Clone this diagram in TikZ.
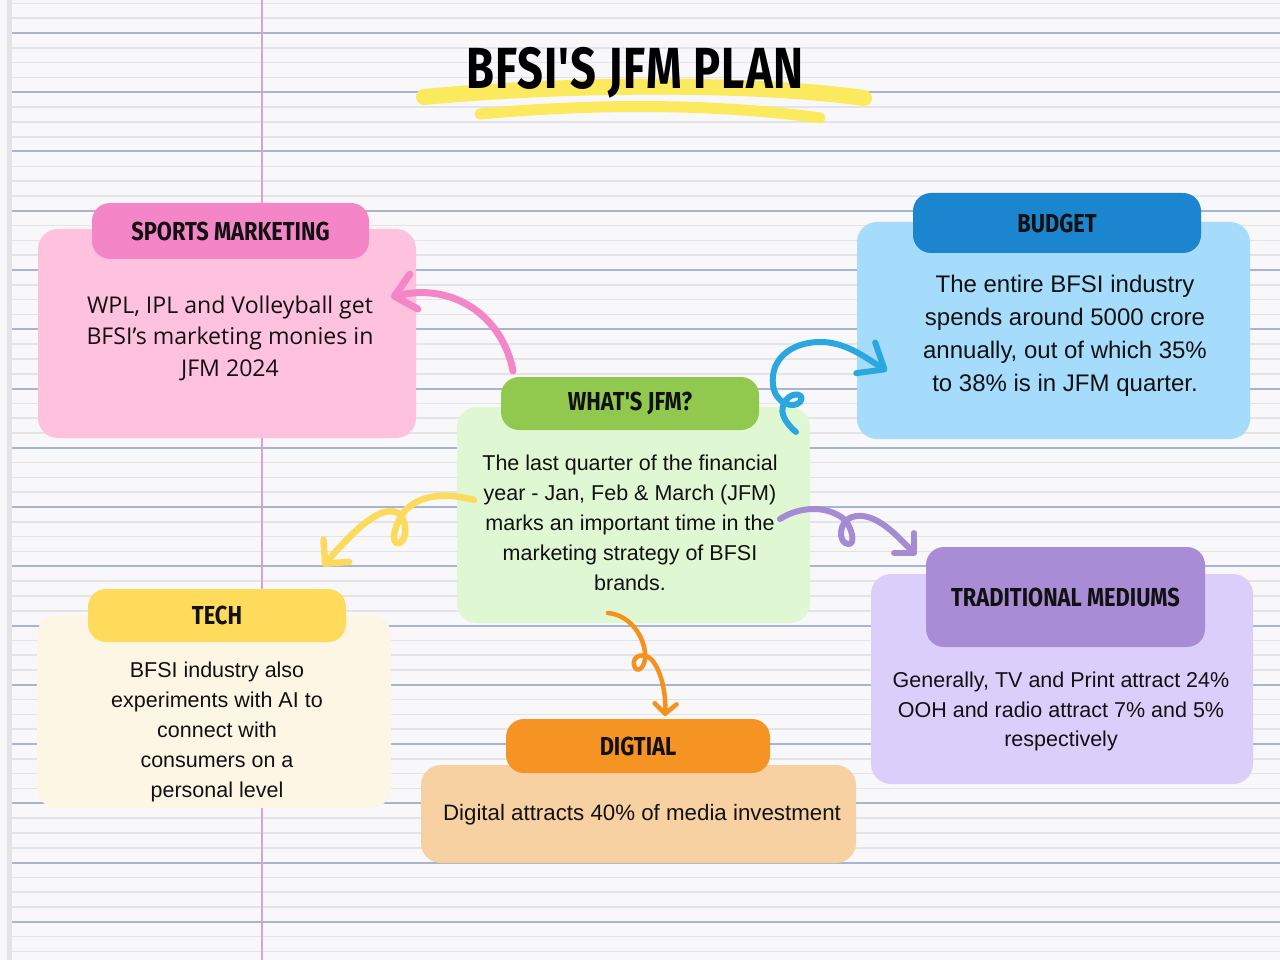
\documentclass[tikz,border=0pt]{standalone}
\usepackage{fontspec}
\setmainfont{Liberation Sans}
\newfontfamily\osfont{Open Sans}
\newfontfamily\hdfont[FakeStretch=0.84]{Fira Sans}
\newfontfamily\ttlfont[FakeStretch=0.78, LetterSpace=2]{Fira Sans}
\usetikzlibrary{arrows.meta}
\definecolor{paper}{HTML}{F8F7F9}
\definecolor{margin}{HTML}{E4E4E6}
\definecolor{lightrule}{HTML}{E3E3E8}
\definecolor{darkrule}{HTML}{A9B4D0}
\definecolor{redline}{HTML}{D9A2D0}
\definecolor{inkc}{HTML}{111111}
\definecolor{hilite}{HTML}{FCEA5E}
\definecolor{pinkbody}{HTML}{FEC2DF}
\definecolor{pinkhead}{HTML}{F486C8}
\definecolor{bluebody}{HTML}{A6DCFB}
\definecolor{bluehead}{HTML}{1B86CF}
\definecolor{greenbody}{HTML}{DFF8D3}
\definecolor{greenhead}{HTML}{91C94E}
\definecolor{yelbody}{HTML}{FEF6E5}
\definecolor{yelhead}{HTML}{FEDB5A}
\definecolor{purbody}{HTML}{DCCEFB}
\definecolor{purhead}{HTML}{A98CD6}
\definecolor{orbody}{HTML}{F8D1A3}
\definecolor{orhead}{HTML}{F59422}
\definecolor{pinkarrow}{HTML}{F486C8}
\definecolor{bluearrow}{HTML}{2AA7DF}
\definecolor{yelarrow}{HTML}{FCDA5C}
\definecolor{purarrow}{HTML}{A58AD4}
\definecolor{orarrow}{HTML}{F5921E}
\tikzset{
  bodybox/.style={draw=none, rounded corners=20pt, inner sep=0pt},
  headbox/.style={draw=none, rounded corners=18pt, inner sep=0pt, text=inkc,
    font=\hdfont\bfseries\fontsize{26}{26}\selectfont},
  bodytext/.style={align=center, text=inkc, inner sep=0pt,
    font=\fontsize{21.5}{30}\selectfont},
  curl/.style={line width=6pt, line cap=round, line join=round},
}
\begin{document}
\begin{tikzpicture}[x=1pt,y=-1pt]
\useasboundingbox (0,0) rectangle (1280,960);
% paper
\fill[paper] (0,0) rectangle (1280,960);
\fill[margin] (7,0) rectangle (12,960);
\foreach \k in {0,...,64}{
  \draw[lightrule, line width=1.6pt] (12,{3.4+14.8125*\k}) -- (1280,{3.4+14.8125*\k});
}
\foreach \m in {0,...,15}{
  \draw[darkrule, line width=2pt] (12,{33+59.25*\m}) -- (1280,{33+59.25*\m});
}
\draw[redline, line width=2.6pt] (262,0) -- (262,960);

% title
\draw[hilite, line width=16pt, line cap=round] (424,97) .. controls (560,84) and (750,82) .. (864,98);
\draw[hilite, line width=11pt, line cap=round] (480,114) .. controls (600,103) and (720,104) .. (820,118);
\node[text=black, inner sep=0pt, font=\ttlfont\bfseries\fontsize{58}{58}\selectfont] (title) at (635,73) {BFSI'S JFM PLAN};

% sports marketing
\node[bodybox, fill=pinkbody, minimum width=378pt, minimum height=209pt] (sportsbody) at (227,333.5) {};
\node[headbox, fill=pinkhead, minimum width=277pt, minimum height=56pt] (sportshead) at (230.5,231) {SPORTS MARKETING};
\node[bodytext, font=\osfont\fontsize{23.1}{31.5}\selectfont] (sportstext) at (230,338) {WPL, IPL and Volleyball get\\BFSI’s marketing monies in\\JFM 2024};

% budget
\node[bodybox, fill=bluebody, minimum width=393pt, minimum height=217pt] (budgetbody) at (1053.5,330.5) {};
\node[headbox, fill=bluehead, minimum width=288pt, minimum height=60pt] (budgethead) at (1057,223) {BUDGET};
\node[bodytext, font=\fontsize{24}{33}\selectfont] (budgettext) at (1065,336) {The entire BFSI industry\\spends around 5000 crore\\annually, out of which 35\%\\to 38\% is in JFM quarter.};

% what's jfm
\node[bodybox, fill=greenbody, minimum width=353pt, minimum height=216pt] (jfmbody) at (633.5,515) {};
\node[headbox, fill=greenhead, minimum width=258pt, minimum height=53pt] (jfmhead) at (630,403.5) {WHAT'S JFM?};
\node[bodytext] (jfmtext) at (630,523) {The last quarter of the financial\\year - Jan, Feb \& March (JFM)\\marks an important time in the\\marketing strategy of BFSI\\brands.};

% tech
\node[bodybox, fill=yelbody, minimum width=354pt, minimum height=193pt] (techbody) at (214,711.5) {};
\node[headbox, fill=yelhead, minimum width=258pt, minimum height=53pt] (techhead) at (217,615.5) {TECH};
\node[bodytext] (techtext) at (217,732) {BFSI industry also\\experiments with AI to\\connect with\\consumers on a\\personal level};

% traditional mediums
\node[bodybox, fill=purbody, minimum width=382pt, minimum height=210pt] (tradbody) at (1062,679) {};
\node[headbox, fill=purhead, minimum width=279pt, minimum height=100pt] (tradhead) at (1065.5,597) {TRADITIONAL MEDIUMS};
\node[bodytext, font=\fontsize{21.5}{29.5}\selectfont] (tradtext) at (1061,711.5) {Generally, TV and Print attract 24\%\\OOH and radio attract 7\% and 5\%\\respectively};

% digital
\node[bodybox, fill=orbody, minimum width=435pt, minimum height=98pt] (digbody) at (638.5,814) {};
\node[headbox, fill=orhead, minimum width=264pt, minimum height=54pt] (dighead) at (638,746) {DIGTIAL};
\node[bodytext, font=\fontsize{22.3}{30}\selectfont] (digtext) at (642,815) {Digital attracts 40\% of media investment};

% connectors
\coordinate (pinkS) at (513,371);
\coordinate (pinkT) at (391,297);
\draw[curl, pinkarrow, line width=7pt, -{Straight Barb[round, length=20pt, width=36pt]}]
  (pinkS) .. controls (503,318) and (455,282) .. (pinkT);

\coordinate (blueS) at (796,432);
\coordinate (blueT) at (887,371);
\draw[curl, bluearrow, -{Straight Barb[round, length=22pt, width=36pt]}]
  (blueS) .. controls (784,422) and (778,410) .. (786,400)
  .. controls (793,391) and (806,394) .. (800,402)
  .. controls (794,409) and (775,404) .. (773,385)
  .. controls (770,360) and (790,343) .. (818,342)
  .. controls (845,341) and (866,358) .. (blueT);

\coordinate (yelS) at (474,500);
\coordinate (yelT) at (323,566);
\draw[curl, yelarrow, line width=6.5pt, -{Straight Barb[round, length=17pt, width=34pt]}]
  (yelS) .. controls (445,492) and (418,495) .. (404,512)
  .. controls (394,525) and (390,545) .. (399,543)
  .. controls (408,540) and (407,520) .. (398,513)
  .. controls (380,503) and (350,535) .. (yelT);

\coordinate (purS) at (780,519);
\coordinate (purT) at (916,555);
\draw[curl, purarrow, -{Straight Barb[round, length=14pt, width=28pt]}]
  (purS) .. controls (800,506) and (828,505) .. (845,520)
  .. controls (852,528) and (856,545) .. (848,544)
  .. controls (838,543) and (838,522) .. (852,517)
  .. controls (875,510) and (898,537) .. (purT);

\coordinate (orS) at (608,613);
\coordinate (orT) at (665,716);
\draw[curl, orarrow, line width=4.5pt, -{Straight Barb[round, length=10pt, width=22pt]}]
  (orS) .. controls (628,615) and (642,632) .. (645,652)
  .. controls (647,668) and (636,675) .. (634,665)
  .. controls (632,655) and (645,652) .. (652,660)
  .. controls (662,672) and (666,695) .. (orT);
\end{tikzpicture}
\end{document}
